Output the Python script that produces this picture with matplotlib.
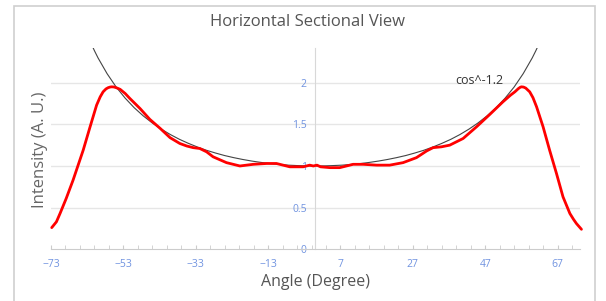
import matplotlib
matplotlib.use("Agg")
import matplotlib.pyplot as plt
from matplotlib.patches import Rectangle
from matplotlib.ticker import FixedLocator

plt.rcParams['font.family'] = ['Open Sans', 'DejaVu Sans']

# Measured red curve (angle in degrees, intensity)
red_angle = [-72.8, -71.5, -70.5, -68.8, -66.9, -64.1, -62.2, -60.4, -59.4, -58.6, -57.8,
             -57.2, -56.6, -56.2, -55.6, -55.0, -53.9, -52.5,
             -51.2, -48.4, -45.7, -42.8, -40.1, -37.4, -35.5, -33.7, -31.9, -30.0, -28.2,
             -24.5, -20.8, -17.1, -13.4, -10.7, -7.0, -3.3, -1.5, -0.5, 0.5, 1.5, 4.1,
             6.8, 10.5, 13.3, 17.0, 20.6, 24.3, 28.0, 30.8, 32.6, 34.9, 37.2, 40.9,
             44.6, 48.3, 51.9, 54.0, 55.2, 56.2, 56.7, 57.0, 57.6, 58.2, 59.3, 60.2,
             61.2, 63.0, 64.8, 66.7, 68.5, 70.4, 71.4, 72.2, 73.6]
red_value = [0.26, 0.33, 0.43, 0.61, 0.83, 1.19, 1.47, 1.73, 1.83, 1.89, 1.925,
             1.94, 1.948, 1.95, 1.948, 1.94, 1.92, 1.87,
             1.81, 1.69, 1.56, 1.45, 1.34, 1.27, 1.24, 1.22, 1.21, 1.17, 1.11,
             1.04, 1.00, 1.02, 1.03, 1.03, 0.99, 0.99, 1.01, 1.00, 1.01, 0.99, 0.98,
             0.98, 1.02, 1.02, 1.01, 1.01, 1.04, 1.10, 1.18, 1.22, 1.23, 1.25, 1.33,
             1.47, 1.62, 1.77, 1.85, 1.89, 1.93, 1.945, 1.95, 1.947, 1.935, 1.89, 1.82,
             1.71, 1.47, 1.19, 0.91, 0.63, 0.43, 0.36, 0.31, 0.24]

# Reference curve (cos^-1.2)
ref_angle = [-62, -61, -60, -57.5, -55, -52.5, -50, -47.5, -45, -42.5, -40, -37.5, -35,
             -32.5, -30, -27.5, -25, -22.5, -20, -17.5, -15, -12.5, -10, -7.5, -5, -2.5,
             0, 2.5, 5, 7.5, 10, 12.5, 15, 17.5, 20, 22.5, 25, 27.5, 30, 32.5, 35,
             37.5, 40, 42.5, 45, 47.5, 50, 52.5, 55, 57.5, 60, 61, 62]
ref_value = [2.478, 2.384, 2.297, 2.108, 1.948, 1.814, 1.699, 1.601, 1.516, 1.442, 1.377,
             1.320, 1.271, 1.227, 1.188, 1.155, 1.125, 1.100, 1.078, 1.059, 1.043, 1.029,
             1.019, 1.010, 1.005, 1.001, 1.000, 1.001, 1.005, 1.010, 1.019, 1.029, 1.043,
             1.059, 1.078, 1.100, 1.125, 1.155, 1.188, 1.227, 1.271, 1.320, 1.377, 1.442,
             1.516, 1.601, 1.699, 1.814, 1.948, 2.108, 2.297, 2.384, 2.478]

x_ticks = [-73, -53, -33, -13, 7, 27, 47, 67]
y_ticks = [0, 0.5, 1, 1.5, 2]
y_labels = ["0", "0.5", "1", "1.5", "2"]

W, H = 606, 301
fig = plt.figure(figsize=(W / 100, H / 100), dpi=100)
fig.patch.set_facecolor('white')

# outer frame
fig.patches.append(Rectangle((14 / W, -0.05), (595 - 14) / W, (H - 6) / H + 0.05,
                             transform=fig.transFigure, fill=False,
                             edgecolor='#cfcfcf', linewidth=1.2, zorder=0))

ax = fig.add_axes([51 / W, 51.7 / H, 529 / W, (249.3 - 48) / H])
ax.set_xlim(-73, 73.2)
ax.set_ylim(0, 2.416)

for s in ['top', 'right']:
    ax.spines[s].set_visible(False)
ax.spines['left'].set_position(('data', 0))
ax.spines['left'].set_color('#d8d8d8')
ax.spines['bottom'].set_color('#cccccc')

ax.set_yticks(y_ticks)
ax.set_yticklabels(y_labels)
ax.tick_params(axis='y', length=0, pad=6, labelsize=7.5, labelcolor='#7093e0')
for v in y_ticks[1:]:
    ax.axhline(v, color='#e6e6e6', linewidth=1.0, zorder=0)

ax.xaxis.set_major_locator(FixedLocator(x_ticks))
ax.xaxis.set_minor_locator(FixedLocator([-73 + 4 * i for i in range(37)]))
ax.tick_params(axis='x', which='both', direction='in', length=3, color='#cccccc',
               labelsize=7.5, labelcolor='#7093e0', pad=7)

ax.plot(ref_angle, ref_value, color='#444444', linewidth=0.8, zorder=2)
ax.plot(red_angle, red_value, color='#ff0000', linewidth=2.0, zorder=3,
        solid_joinstyle='round', solid_capstyle='round', clip_on=False)

ax.text(38.7, 2.02, "cos^-1.2", fontsize=9, color='#333333', va='center', ha='left')

fig.text(307 / W, 1 - 22 / H, "Horizontal Sectional View", ha='center', va='center',
         fontsize=12, color='#555555')
ax.set_xlabel("Angle (Degree)", fontsize=11.5, color='#555555', labelpad=3)
fig.text(40 / W, 1 - 150 / H, "Intensity (A. U.)", rotation=90, ha='center',
         va='center', fontsize=12, color='#666666')

fig.savefig("out.png", dpi=100)
